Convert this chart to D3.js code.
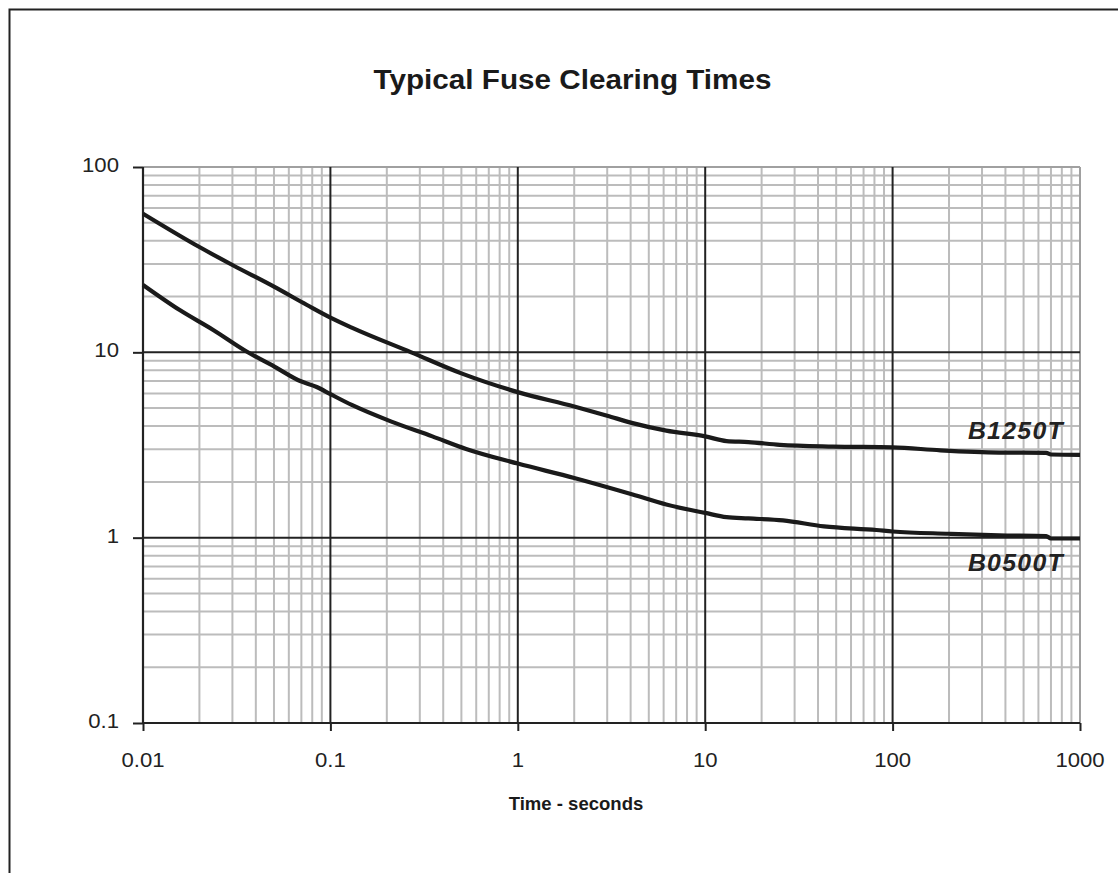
<!DOCTYPE html>
<html>
<head>
<meta charset="utf-8">
<script src="https://cdn.jsdelivr.net/npm/d3@7"></script>
<style>
  html, body { margin: 0; padding: 0; background: #fff; }
  svg { display: block; font-family: "Liberation Sans", Arial, sans-serif; }
</style>
</head>
<body>
<svg id="chart" width="1118" height="873"></svg>
<script>
// ---- data ----
const title = "Typical Fuse Clearing Times";
const xAxisLabel = "Time - seconds";
const xTickValues = [0.01, 0.1, 1, 10, 100, 1000];
const xTickLabels = ["0.01", "0.1", "1", "10", "100", "1000"];
const yTickValues = [0.1, 1, 10, 100];
const yTickLabels = ["0.1", "1", "10", "100"];

const b1250tTime  = [0.01, 0.02, 0.03, 0.05, 0.075, 0.1, 0.13, 0.27, 0.5, 1, 2, 3, 4.1, 6.2, 10, 13, 17, 25, 48, 100, 180, 370, 660, 700, 1000];
const b1250tValue = [56, 37, 29.6, 22.6, 18.0, 15.4, 13.6, 10, 7.7, 6.1, 5.1, 4.55, 4.15, 3.78, 3.52, 3.32, 3.28, 3.17, 3.1, 3.07, 2.96, 2.88, 2.87, 2.81, 2.8];
const b0500tTime  = [0.01, 0.0157, 0.0237, 0.0357, 0.05, 0.069, 0.0845, 0.1, 0.13, 0.21, 0.35, 0.53, 1, 2, 4.1, 6.2, 10, 13, 17, 26, 43, 82, 100, 200, 370, 660, 700, 1000];
const b0500tValue = [23.1, 16.9, 13.2, 10.1, 8.4, 7.0, 6.5, 5.95, 5.2, 4.24, 3.52, 3.01, 2.51, 2.1, 1.71, 1.51, 1.36, 1.29, 1.27, 1.24, 1.15, 1.10, 1.08, 1.05, 1.03, 1.02, 0.99, 0.99];
const seriesNames = ["B1250T", "B0500T"];

// ---- layout ----
const svg = d3.select("#chart");
const x = d3.scaleLog().domain([0.01, 1000]).range([143, 1080]);
const y = d3.scaleLog().domain([0.1, 100]).range([723, 167]);
const sx = 1.08; // horizontal stretch of text

// outer frame
svg.append("rect").attr("x", 9.5).attr("y", 9.5).attr("width", 1130).attr("height", 900)
  .attr("fill", "none").attr("stroke", "#222").attr("stroke-width", 2);

// minor grid values
function minors(domain) {
  const out = [];
  for (let e = Math.log10(domain[0]); e < Math.log10(domain[1]); e++) {
    for (let k = 2; k <= 9; k++) out.push(k * Math.pow(10, e));
  }
  return out;
}
const grid = svg.append("g");
const gray = "#bcbcbc";
const dark = "#222";
grid.selectAll("line.vmin").data(minors(x.domain())).enter().append("line")
  .attr("x1", d => x(d)).attr("x2", d => x(d)).attr("y1", y(0.1)).attr("y2", y(100))
  .attr("stroke", gray).attr("stroke-width", 2);
grid.selectAll("line.hmin").data(minors(y.domain())).enter().append("line")
  .attr("x1", x(0.01)).attr("x2", x(1000)).attr("y1", d => y(d)).attr("y2", d => y(d))
  .attr("stroke", gray).attr("stroke-width", 2);
// edge lines (top and right) gray
grid.append("line").attr("x1", x(0.01)).attr("x2", x(1000)).attr("y1", y(100)).attr("y2", y(100))
  .attr("stroke", "#a0a0a0").attr("stroke-width", 2);
grid.append("line").attr("x1", x(1000)).attr("x2", x(1000)).attr("y1", y(0.1)).attr("y2", y(100))
  .attr("stroke", "#a0a0a0").attr("stroke-width", 2);
// interior major lines dark
grid.selectAll("line.vmaj").data([0.1, 1, 10, 100]).enter().append("line")
  .attr("x1", d => x(d)).attr("x2", d => x(d)).attr("y1", y(0.1)).attr("y2", y(100))
  .attr("stroke", dark).attr("stroke-width", 2);
grid.selectAll("line.hmaj").data([1, 10]).enter().append("line")
  .attr("x1", x(0.01)).attr("x2", x(1000)).attr("y1", d => y(d)).attr("y2", d => y(d))
  .attr("stroke", dark).attr("stroke-width", 2);

// axes
const xAxis = d3.axisBottom(x).tickValues(xTickValues).tickSize(8).tickFormat("");
const yAxis = d3.axisLeft(y).tickValues(yTickValues).tickSize(10).tickFormat("");
const gx = svg.append("g").attr("transform", `translate(0,${y(0.1)})`).call(xAxis);
const gy = svg.append("g").attr("transform", `translate(${x(0.01)},0)`).call(yAxis);
[gx, gy].forEach(g => {
  g.select(".domain").attr("stroke", dark).attr("stroke-width", 2.2);
  g.selectAll(".tick line").attr("stroke", dark).attr("stroke-width", 2);
});
gx.select(".domain").attr("d", `M${x(0.01)},0H${x(1000)}`);
gy.select(".domain").attr("d", `M0,${y(0.1)}V${y(100)}`);

// tick labels
xTickValues.forEach((v, i) => {
  svg.append("text")
    .attr("transform", `translate(${x(v)},767) scale(${sx},1)`)
    .attr("text-anchor", "middle").attr("font-size", 20.5).attr("fill", "#222")
    .text(xTickLabels[i]);
});
yTickValues.forEach((v, i) => {
  svg.append("text")
    .attr("transform", `translate(119,${y(v) + 5}) scale(${sx},1)`)
    .attr("text-anchor", "end").attr("font-size", 20.5).attr("fill", "#222")
    .text(yTickLabels[i]);
});

// curves
const line = d3.line().x(d => x(d[0])).y(d => y(d[1])).curve(d3.curveMonotoneX);
const s1 = b1250tTime.map((t, i) => [t, b1250tValue[i]]);
const s2 = b0500tTime.map((t, i) => [t, b0500tValue[i]]);
[s1, s2].forEach(s => {
  svg.append("path").datum(s).attr("d", line)
    .attr("fill", "none").attr("stroke", "#1a1a1a").attr("stroke-width", 4.2)
    .attr("stroke-linejoin", "round").attr("stroke-linecap", "butt");
});

// series labels
svg.append("text").attr("transform", `translate(1064,439) scale(${sx},1)`)
  .attr("text-anchor", "end").attr("font-size", 23).attr("font-weight", "bold")
  .attr("font-style", "italic").attr("letter-spacing", 1.2).attr("fill", "#222")
  .text(seriesNames[0]);
svg.append("text").attr("transform", `translate(1064,571) scale(${sx},1)`)
  .attr("text-anchor", "end").attr("font-size", 23).attr("font-weight", "bold")
  .attr("font-style", "italic").attr("letter-spacing", 1.2).attr("fill", "#222")
  .text(seriesNames[1]);

// title
svg.append("text").attr("transform", `translate(572.5,89) scale(1.06,1)`)
  .attr("text-anchor", "middle").attr("font-size", 28).attr("font-weight", "bold").attr("fill", "#1a1a1a")
  .text(title);

// x-axis label
svg.append("text").attr("transform", `translate(576,810) scale(1.03,1)`)
  .attr("text-anchor", "middle").attr("font-size", 18).attr("font-weight", "bold").attr("fill", "#1a1a1a")
  .text(xAxisLabel);
</script>
</body>
</html>
